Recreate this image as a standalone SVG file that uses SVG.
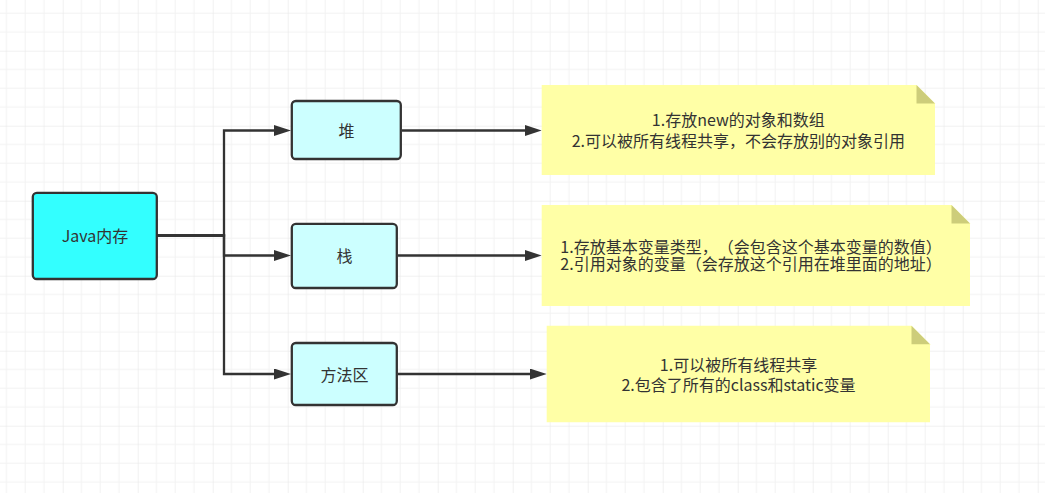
<svg xmlns="http://www.w3.org/2000/svg" width="1045" height="493" viewBox="0 0 1045 493">
<style>
.node{stroke:#333333;stroke-width:2.3}
.main{fill:#33FFFF}
.sub{fill:#CCFFFF}
.note{fill:#FFFFA6}
.fold{fill:#CDCD7A}
.lbl{font-family:"Noto Sans CJK SC","Noto Sans",sans-serif;font-size:16px;fill:#333333;text-anchor:middle;text-spacing-trim:space-all}
.edge{fill:none;stroke:#333333;stroke-width:2.3}
</style>
<defs>
<pattern id="grid" width="75" height="75" patternUnits="userSpaceOnUse" x="62.7" y="50.7">
<path d="M18.75 0V75M37.5 0V75M56.25 0V75M0 18.75H75M0 37.5H75M0 56.25H75" stroke="#F2F2F2" stroke-width="1" fill="none"/>
<path d="M0 0V75M0 0H75" stroke="#E4E4E4" stroke-width="1" fill="none"/>
</pattern>
<marker id="arr" viewBox="0 0 17 11" refX="2" refY="5.5" markerWidth="17" markerHeight="11" markerUnits="userSpaceOnUse" orient="auto">
<path d="M0 0L17 5.5L0 11z" fill="#333333"/>
</marker>
</defs>
<rect width="1045" height="493" fill="#FFFFFF"/>
<rect width="1045" height="493" fill="url(#grid)"/>

<g id="connectors">
<path class="edge" d="M157 235.5H224V130.5H276" marker-end="url(#arr)"/>
<path class="edge" d="M157 235.5H224V255.5H276" marker-end="url(#arr)"/>
<path class="edge" d="M157 235.5H224V374H276" marker-end="url(#arr)"/>
<path class="edge" d="M402 130.5H526.7" marker-end="url(#arr)"/>
<path class="edge" d="M398 255.5H526.7" marker-end="url(#arr)"/>
<path class="edge" d="M398 374H531.7" marker-end="url(#arr)"/>
</g>

<g id="java">
<rect class="node main" x="32.8" y="192.8" width="124" height="86.2" rx="4"/>
<text class="lbl" x="95" y="241.8">Java内存</text>
</g>
<g id="heap">
<rect class="node sub" x="291.8" y="101" width="109" height="58" rx="4"/>
<text class="lbl" x="346.5" y="136.5">堆</text>
</g>
<g id="stack">
<rect class="node sub" x="291.8" y="223.8" width="105" height="64.2" rx="4"/>
<text class="lbl" x="344.5" y="262">栈</text>
</g>
<g id="method">
<rect class="node sub" x="291.8" y="343" width="105" height="62" rx="4"/>
<text class="lbl" x="344.5" y="380.8">方法区</text>
</g>

<g id="note-heap">
<path class="note" d="M541.7 85H916.5L935 103.5V175H541.7z"/>
<path class="fold" d="M916.5 85V103.5H935z"/>
<text class="lbl" x="738.3" y="126.3">1.存放new的对象和数组<tspan x="738.3" dy="21">2.可以被所有线程共享，不会存放别的对象引用</tspan></text>
</g>
<g id="note-stack">
<path class="note" d="M541.7 205H951.5L970 223.5V306H541.7z"/>
<path class="fold" d="M951.5 205V223.5H970z"/>
<text class="lbl" x="751" y="253.3">1.存放基本变量类型，（会包含这个基本变量的数值）<tspan x="751" dy="16.5">2.引用对象的变量（会存放这个引用在堆里面的地址）</tspan></text>
</g>
<g id="note-method">
<path class="note" d="M546.7 325.7H911.5L930 344.2V422.3H546.7z"/>
<path class="fold" d="M911.5 325.7V344.2H930z"/>
<text class="lbl" x="738.5" y="370.7">1.可以被所有线程共享<tspan x="738.5" dy="20.6">2.包含了所有的class和static变量</tspan></text>
</g>
</svg>
